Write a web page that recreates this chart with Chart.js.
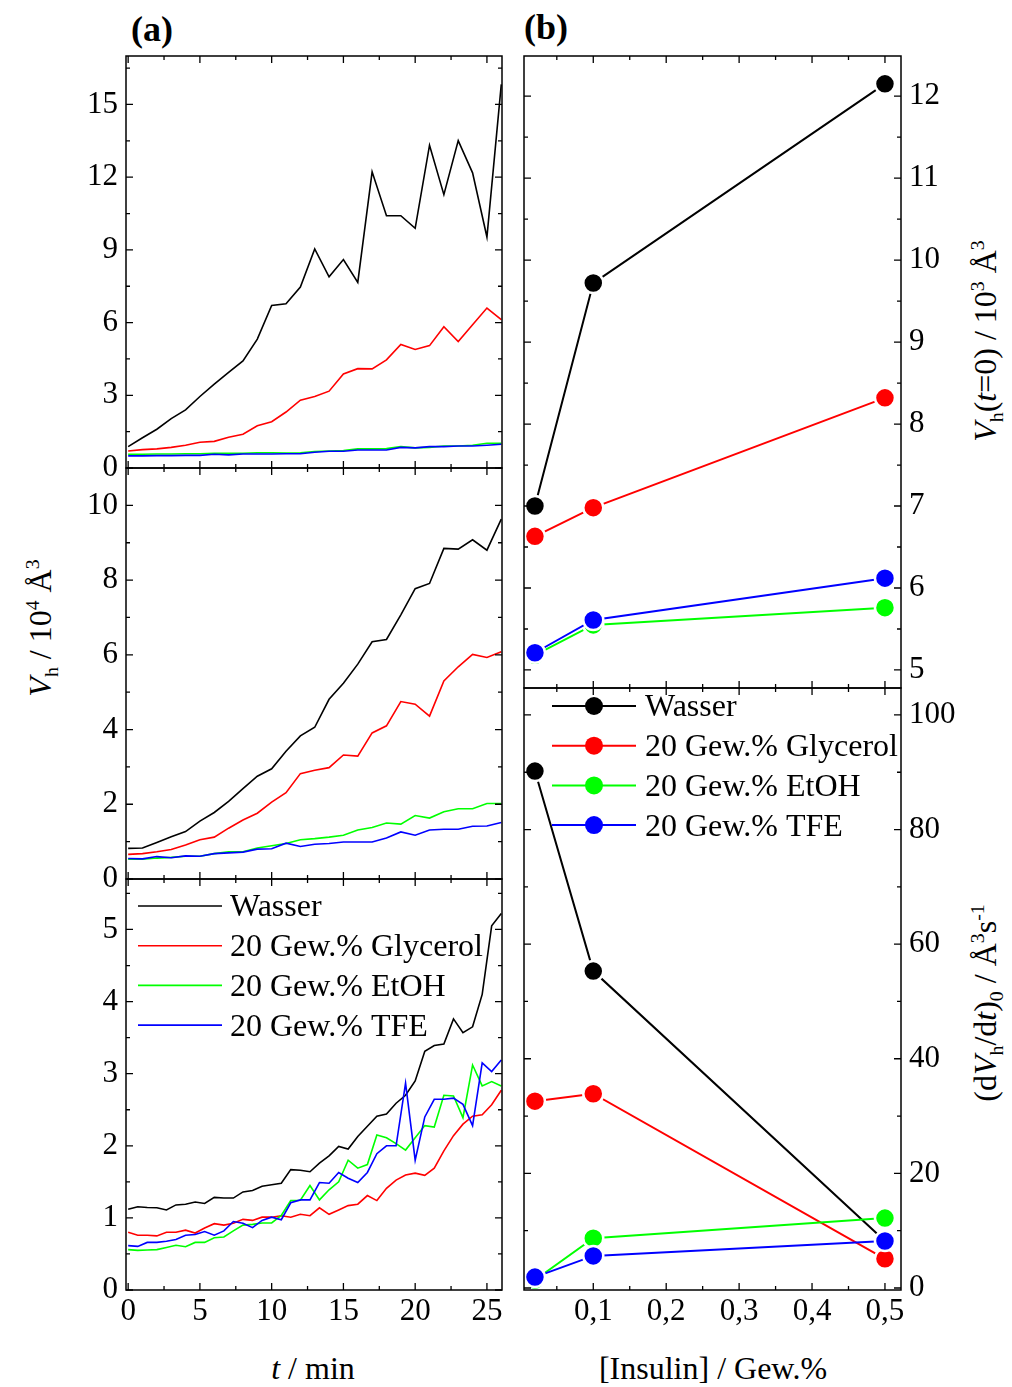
<!DOCTYPE html>
<html>
<head>
<meta charset="utf-8">
<title>Insulin - hydrodynamisches Volumen</title>
<script src="https://cdn.jsdelivr.net/npm/chart.js"></script>
<style>
    body { margin: 0; background: #fff; }
    #figure {
        position: relative;
        width: 1012px;
        height: 1387px;
        font-family: 'Liberation Serif', 'Times New Roman', serif;
        color: #000;
    }
    #figure canvas { position: absolute; }
    .lbl {
        position: absolute;
        white-space: nowrap;
        font-size: 32px;
        line-height: 1;
        transform: translate(-50%, -50%);
    }
    .rot { transform: translate(-50%, -50%) rotate(-90deg); }
    .lbl sub, .lbl sup { font-size: 62%; line-height: 0; }
    .tag { font-weight: bold; font-size: 36px; }
</style>
</head>
<body>
<div id="figure">
    <div class="lbl tag" style="left:152px; top:29px">(a)</div>
    <div class="lbl tag" style="left:546px; top:27px">(b)</div>
    <div class="lbl rot" style="left:40px; top:628px"><i>V</i><sub>h</sub> / 10<sup>4</sup> Å<sup>3</sup></div>
    <div class="lbl rot" style="left:985px; top:341px"><i>V</i><sub>h</sub>(<i>t</i>=0) / 10<sup>3</sup> Å<sup>3</sup></div>
    <div class="lbl rot" style="left:985px; top:1003px">(d<i>V</i><sub>h</sub>/d<i>t</i>)<sub>0</sub> / Å<sup>3</sup>s<sup>-1</sup></div>
    <div class="lbl" style="left:313px; top:1368px"><i>t</i> / min</div>
    <div class="lbl" style="left:713px; top:1368px">[Insulin] / Gew.%</div>
</div>

<script>
    // ---- data (a): V_h in 10^4 A^3 over time ----
    const tMin = [0, 1, 2, 3, 4, 5, 6, 7, 8, 9, 10, 11, 12, 13, 14, 15, 16, 17, 18, 19, 20, 21, 22, 23, 24, 25, 26];
    const tMinFine = [0, 0.67, 1.33, 2, 2.67, 3.33, 4, 4.67, 5.33, 6, 6.67, 7.33, 8, 8.67, 9.33, 10,
        10.67, 11.33, 12, 12.67, 13.33, 14, 14.67, 15.33, 16, 16.67, 17.33, 18, 18.67, 19.33, 20,
        20.67, 21.33, 22, 22.67, 23.33, 24, 24.67, 25.33, 26];

    // top panel
    const topWasser = [0.88, 1.25, 1.60, 2.04, 2.40, 2.95, 3.46, 3.95, 4.42, 5.32, 6.71, 6.78, 7.47, 9.04,
        7.89, 8.60, 7.66, 12.22, 10.41, 10.41, 9.89, 13.32, 11.28, 13.51, 12.18, 9.53, 15.83];
    const topGlycerol = [0.70, 0.76, 0.79, 0.85, 0.94, 1.06, 1.10, 1.27, 1.39, 1.74, 1.91, 2.31, 2.80, 2.95,
        3.17, 3.88, 4.10, 4.09, 4.46, 5.10, 4.89, 5.05, 5.83, 5.22, 5.91, 6.60, 6.12];
    const topEtOH = [0.57, 0.57, 0.58, 0.58, 0.59, 0.59, 0.61, 0.61, 0.61, 0.63, 0.63, 0.62, 0.63, 0.68,
        0.70, 0.72, 0.79, 0.79, 0.80, 0.88, 0.83, 0.85, 0.91, 0.91, 0.94, 1.02, 1.02];
    const topTFE = [0.50, 0.50, 0.51, 0.51, 0.52, 0.52, 0.57, 0.54, 0.58, 0.58, 0.58, 0.59, 0.59, 0.65,
        0.69, 0.69, 0.74, 0.74, 0.74, 0.85, 0.83, 0.88, 0.88, 0.91, 0.91, 0.94, 0.98];

    // middle panel
    const midWasser = [0.82, 0.83, 0.98, 1.13, 1.27, 1.55, 1.78, 2.08, 2.42, 2.75, 2.95, 3.42, 3.83, 4.06,
        4.81, 5.24, 5.75, 6.35, 6.41, 7.07, 7.77, 7.91, 8.85, 8.83, 9.08, 8.80, 9.63];
    const midGlycerol = [0.66, 0.68, 0.73, 0.79, 0.91, 1.05, 1.12, 1.36, 1.58, 1.76, 2.06, 2.31, 2.82, 2.91,
        2.98, 3.32, 3.29, 3.91, 4.10, 4.75, 4.68, 4.36, 5.30, 5.68, 6.01, 5.93, 6.08];
    const midEtOH = [0.53, 0.53, 0.56, 0.58, 0.61, 0.61, 0.68, 0.73, 0.73, 0.83, 0.89, 0.95, 1.05, 1.08,
        1.12, 1.17, 1.31, 1.38, 1.50, 1.47, 1.70, 1.63, 1.80, 1.88, 1.88, 2.02, 2.02];
    const midTFE = [0.55, 0.54, 0.60, 0.57, 0.62, 0.61, 0.68, 0.70, 0.72, 0.80, 0.81, 0.96, 0.87, 0.93,
        0.95, 0.99, 0.99, 0.99, 1.10, 1.26, 1.17, 1.31, 1.33, 1.33, 1.41, 1.42, 1.51];

    // bottom panel (finer time steps)
    const botWasser = [1.12, 1.155, 1.145, 1.14, 1.11, 1.18, 1.19, 1.22, 1.20, 1.285, 1.275, 1.275, 1.36,
        1.38, 1.44, 1.46, 1.48, 1.67, 1.66, 1.64, 1.76, 1.86, 1.99, 1.955, 2.13, 2.27, 2.41, 2.44, 2.59,
        2.70, 2.90, 3.31, 3.39, 3.41, 3.76, 3.57, 3.65, 4.10, 5.05, 5.22];
    const botGlycerol = [0.80, 0.76, 0.76, 0.75, 0.80, 0.80, 0.83, 0.79, 0.86, 0.92, 0.90, 0.925, 0.98,
        0.965, 1.01, 1.01, 1.03, 1.01, 1.05, 1.03, 1.14, 1.05, 1.11, 1.17, 1.19, 1.31, 1.24, 1.41, 1.525,
        1.595, 1.62, 1.59, 1.69, 1.93, 2.14, 2.30, 2.41, 2.43, 2.57, 2.77];
    const botEtOH = [0.56, 0.55, 0.555, 0.56, 0.59, 0.62, 0.60, 0.66, 0.66, 0.725, 0.735, 0.82, 0.90, 0.91,
        0.93, 0.93, 1.035, 1.24, 1.245, 1.45, 1.25, 1.39, 1.50, 1.80, 1.69, 1.74, 2.15, 2.11, 2.03, 1.94,
        2.11, 2.28, 2.26, 2.70, 2.69, 2.39, 3.12, 2.83, 2.89, 2.83];
    const botTFE = [0.615, 0.605, 0.66, 0.66, 0.675, 0.70, 0.76, 0.77, 0.81, 0.76, 0.82, 0.95, 0.925, 0.865,
        0.965, 1.01, 0.975, 1.21, 1.25, 1.25, 1.49, 1.48, 1.63, 1.55, 1.49, 1.63, 1.89, 2.00, 2.00, 2.87,
        1.80, 2.40, 2.645, 2.645, 2.66, 2.575, 2.28, 3.15, 3.03, 3.19];

    // ---- data (b): vs insulin concentration ----
    const insulin = [0.02, 0.1, 0.5];
    const v0Wasser = [7.0, 9.72, 12.15];
    const v0Glycerol = [6.63, 6.98, 8.32];
    const v0EtOH = [5.18, 5.55, 5.76];
    const v0TFE = [5.21, 5.61, 6.12];
    const rateWasser = [90.2, 55.3, 8.2];
    const rateGlycerol = [32.6, 33.9, 5.1];
    const rateEtOH = [1.4, 8.7, 12.2];
    const rateTFE = [1.9, 5.6, 8.2];

    const seriesNames = ['Wasser', '20 Gew.% Glycerol', '20 Gew.% EtOH', '20 Gew.% TFE'];
    const seriesColors = ['#000000', '#ff0000', '#00ff00', '#0000ff'];

    // ---- tick labels ----
    const tTicks = [0, 5, 10, 15, 20, 25];
    const topTicks = [0, 3, 6, 9, 12, 15];
    const midTicks = [0, 2, 4, 6, 8, 10];
    const botTicks = [0, 1, 2, 3, 4, 5];
    const insulinTicks = [0.1, 0.2, 0.3, 0.4, 0.5];
    const v0Ticks = [5, 6, 7, 8, 9, 10, 11, 12];
    const rateTicks = [0, 20, 40, 60, 80, 100];

    Chart.defaults.font.family = "'Liberation Serif', 'Times New Roman', serif";
    Chart.defaults.color = '#000';

    // major ticks plus a minor tick half way between them
    function tickMarks(ax) {
        const half = (ax.ticks[1] - ax.ticks[0]) / 2;
        const marks = [];
        for (let k = -2; k <= ax.ticks.length * 2; k++) {
            const v = ax.ticks[0] + k * half;
            if (v >= ax.min - 1e-9 && v <= ax.max + 1e-9) marks.push([v, k % 2 === 0]);
        }
        return marks;
    }

    // box frame with inward ticks on all four sides
    function framePlugin(xAx, yAx) {
        return {
            id: 'frame',
            afterDatasetsDraw(chart) {
                const { ctx, chartArea: a, scales: { x, y } } = chart;
                ctx.save();
                ctx.strokeStyle = '#000';
                ctx.lineWidth = 1.5;
                ctx.strokeRect(a.left, a.top, a.right - a.left, a.bottom - a.top);
                ctx.lineWidth = 1.3;
                ctx.beginPath();
                tickMarks(xAx).forEach(([v, major]) => {
                    const px = x.getPixelForValue(v), len = major ? 7 : 4;
                    ctx.moveTo(px, a.bottom); ctx.lineTo(px, a.bottom - len);
                    ctx.moveTo(px, a.top); ctx.lineTo(px, a.top + len);
                });
                tickMarks(yAx).forEach(([v, major]) => {
                    const py = y.getPixelForValue(v), len = major ? 7 : 4;
                    ctx.moveTo(a.left, py); ctx.lineTo(a.left + len, py);
                    ctx.moveTo(a.right, py); ctx.lineTo(a.right - len, py);
                });
                ctx.stroke();
                ctx.restore();
            }
        };
    }

    function legendPlugin(o) {
        return {
            id: 'insideLegend',
            afterDraw(chart) {
                const { ctx, chartArea: a } = chart;
                ctx.save();
                ctx.font = "32px 'Liberation Serif'";
                ctx.textBaseline = 'middle';
                seriesNames.forEach((name, i) => {
                    const y = a.top + o.top + i * o.step;
                    ctx.strokeStyle = seriesColors[i];
                    ctx.lineWidth = o.lineWidth;
                    ctx.beginPath();
                    ctx.moveTo(a.left + o.x0, y);
                    ctx.lineTo(a.left + o.x1, y);
                    ctx.stroke();
                    if (o.marker) {
                        ctx.fillStyle = seriesColors[i];
                        ctx.beginPath();
                        ctx.arc(a.left + (o.x0 + o.x1) / 2, y, o.marker, 0, 2 * Math.PI);
                        ctx.fill();
                    }
                    ctx.fillStyle = '#000';
                    ctx.fillText(name, a.left + o.textX, y + 2);
                });
                ctx.restore();
            }
        };
    }

    function axis(position, ax, size, showLabels) {
        const horizontal = position === 'bottom';
        return {
            type: 'linear',
            position: position,
            min: ax.min,
            max: ax.max,
            grid: { display: false, drawTicks: false },
            border: { display: false },
            afterBuildTicks: s => { s.ticks = ax.ticks.map(v => ({ value: v })); },
            afterFit: s => {
                if (horizontal) { s.height = size; s.paddingLeft = 0; s.paddingRight = 0; }
                else { s.width = size; s.paddingTop = 0; s.paddingBottom = 0; }
            },
            ticks: {
                display: showLabels,
                autoSkip: false,
                maxRotation: 0,
                padding: horizontal ? 3 : 8,
                font: { size: 31 },
                callback: ax.format || (v => String(v))
            }
        };
    }

    function makePanel(area, cfg) {
        const ext = { l: 80, r: 80, t: 20, b: cfg.xLabels ? 60 : 20 };
        const canvas = document.createElement('canvas');
        canvas.width = area.w + ext.l + ext.r;
        canvas.height = area.h + ext.t + ext.b;
        canvas.style.left = (area.x - ext.l) + 'px';
        canvas.style.top = (area.y - ext.t) + 'px';
        document.getElementById('figure').appendChild(canvas);
        const yRight = cfg.yPos === 'right';
        const plugins = [framePlugin(cfg.x, cfg.y)];
        if (cfg.legend) plugins.push(legendPlugin(cfg.legend));
        new Chart(canvas, {
            type: 'line',
            data: { datasets: cfg.datasets },
            options: {
                responsive: false,
                animation: false,
                devicePixelRatio: 1,
                events: [],
                layout: { padding: { left: yRight ? ext.l : 0, right: yRight ? 0 : ext.r, top: ext.t, bottom: 0 } },
                plugins: { legend: { display: false }, tooltip: { enabled: false } },
                scales: {
                    x: axis('bottom', cfg.x, ext.b, cfg.xLabels),
                    y: axis(yRight ? 'right' : 'left', cfg.y, yRight ? ext.r : ext.l, true)
                }
            },
            plugins: plugins
        });
    }

    function timeSets(ts, lists) {
        return lists.map((vals, i) => ({
            label: seriesNames[i],
            data: vals.map((v, k) => ({ x: ts[k], y: v })),
            borderColor: seriesColors[i],
            borderWidth: 1.6,
            pointRadius: 0,
            tension: 0,
            fill: false,
            order: 4 - i
        }));
    }

    function concSets(lists) {
        return lists.map((vals, i) => ({
            label: seriesNames[i],
            data: vals.map((v, k) => ({ x: insulin[k], y: v })),
            borderColor: seriesColors[i],
            backgroundColor: seriesColors[i],
            borderWidth: 2,
            pointRadius: 10,
            pointBackgroundColor: seriesColors[i],
            pointBorderColor: '#ffffff',
            pointBorderWidth: 2.5,
            tension: 0,
            fill: false,
            clip: false,
            order: 4 - i
        }));
    }

    const tAxis = { min: -0.15, max: 26.05, ticks: tTicks };
    const concAxis = { min: 0.005, max: 0.522, ticks: insulinTicks, format: v => v.toFixed(1).replace('.', ',') };

    makePanel({ x: 126, y: 56, w: 376, h: 412 }, {
        x: tAxis, y: { min: 0, max: 17, ticks: topTicks }, xLabels: false,
        datasets: timeSets(tMin, [topWasser, topGlycerol, topEtOH, topTFE])
    });
    makePanel({ x: 126, y: 468, w: 376, h: 411 }, {
        x: tAxis, y: { min: 0, max: 11, ticks: midTicks }, xLabels: false,
        datasets: timeSets(tMin, [midWasser, midGlycerol, midEtOH, midTFE])
    });
    makePanel({ x: 126, y: 879, w: 376, h: 411 }, {
        x: tAxis, y: { min: 0, max: 5.7, ticks: botTicks }, xLabels: true,
        datasets: timeSets(tMinFine, [botWasser, botGlycerol, botEtOH, botTFE]),
        legend: { top: 27, step: 39.7, x0: 12, x1: 96, textX: 104, lineWidth: 1.6 }
    });
    makePanel({ x: 524, y: 56, w: 377, h: 632 }, {
        x: concAxis, y: { min: 4.78, max: 12.49, ticks: v0Ticks }, yPos: 'right', xLabels: false,
        datasets: concSets([v0Wasser, v0Glycerol, v0EtOH, v0TFE])
    });
    makePanel({ x: 524, y: 688, w: 377, h: 602 }, {
        x: concAxis, y: { min: -0.35, max: 104.7, ticks: rateTicks }, yPos: 'right', xLabels: true,
        datasets: concSets([rateWasser, rateGlycerol, rateEtOH, rateTFE]),
        legend: { top: 18, step: 39.7, x0: 28, x1: 112, textX: 121, lineWidth: 2, marker: 9 }
    });
</script>
</body>
</html>
